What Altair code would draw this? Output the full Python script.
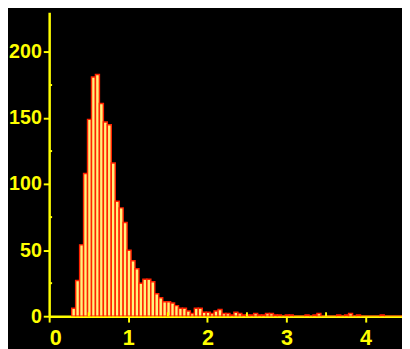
import altair as alt
import pandas as pd

BIN_START = 0.285
BIN_WIDTH = 0.05
COUNTS = [6, 27, 54, 108, 149, 181, 183, 161, 147, 145,
          116, 87, 82, 71, 50, 42, 36, 25, 28, 28,
          26, 17, 14, 11, 11, 10, 8, 6, 6, 4,
          2, 6, 6, 3, 3, 2, 4, 5, 2, 2,
          1, 3, 2, 1, 1, 1, 2, 1, 1, 2,
          2, 1, 1, 0, 1, 1, 0, 0, 0, 1,
          0, 1, 2, 0, 0, 0, 0, 1, 0, 1,
          2, 0, 1, 0, 0, 0, 0, 0, 1, 0,
          0, 0, 0, 0]
X_TICKS = [0, 1, 2, 3, 4]
Y_TICKS = [0, 50, 100, 150, 200]
X_MINOR = [0.5, 1.5, 2.5, 3.5]
Y_MINOR = [25, 75, 125, 175]

YELLOW = "#FFFF00"
FILL = "#FFF27A"
STROKE = "#FF2200"
FONT = "Liberation Sans"

bins = pd.DataFrame({
    "left": [BIN_START + i * BIN_WIDTH for i in range(len(COUNTS))],
    "count": COUNTS,
})
bins["right"] = bins["left"] + BIN_WIDTH

xs = alt.Scale(domain=[0, 4.46], nice=False, zero=False)
ys = alt.Scale(domain=[0, 230], nice=False)

X_AXIS = alt.Axis(values=X_TICKS, format="d", labelFontSize=22, labelPadding=6,
                  title="")
Y_AXIS = alt.Axis(values=Y_TICKS, format="d", labelFontSize=20, labelPadding=2,
                  title="")

bars = alt.Chart(bins).mark_rect(
    fill=FILL, stroke=STROKE, strokeWidth=1.5, clip=True
).encode(
    x=alt.X("left:Q", scale=xs, axis=X_AXIS),
    x2="right:Q",
    y=alt.Y("count:Q", scale=ys, axis=Y_AXIS),
    y2=alt.datum(0),
)

xminor = alt.Chart(pd.DataFrame({"v": X_MINOR})).mark_rule(
    color=YELLOW, strokeWidth=2
).encode(
    x=alt.X("v:Q", scale=xs, axis=X_AXIS),
    y=alt.value(310),
    y2=alt.value(306),
)

yminor = alt.Chart(pd.DataFrame({"v": Y_MINOR})).mark_rule(
    color=YELLOW, strokeWidth=2
).encode(
    y=alt.Y("v:Q", scale=ys, axis=Y_AXIS),
    x=alt.value(0),
    x2=alt.value(3),
)

chart = alt.layer(bars, xminor, yminor).properties(
    width=360, height=310,
    padding={"left": 42, "top": 1, "right": 0, "bottom": 30},
    autosize="none",
    background="black",
).configure_view(
    stroke=None
).configure_axis(
    domainColor=YELLOW, domainWidth=2.5, tickColor=YELLOW, tickWidth=2,
    tickSize=6, labelColor=YELLOW, labelFont=FONT, labelFontWeight="bold",
    grid=False, zindex=1,
)

chart.save("out.html", embed_options={"renderer": "svg", "actions": False})
